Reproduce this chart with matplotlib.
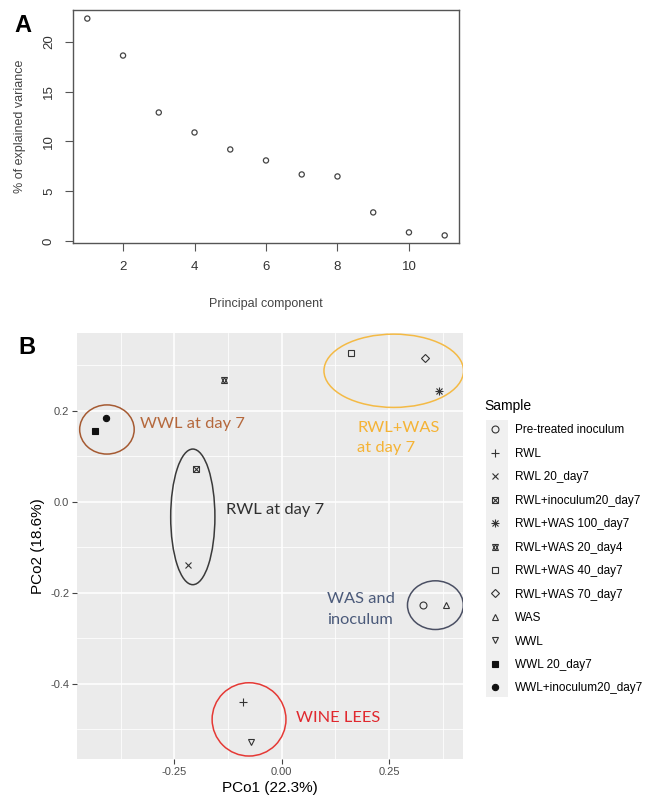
import matplotlib
matplotlib.use('Agg')
import matplotlib.pyplot as plt
from matplotlib.patches import Ellipse, Rectangle
from matplotlib.lines import Line2D
from matplotlib.legend_handler import HandlerTuple
from matplotlib.ticker import MultipleLocator

plt.rcParams['font.family'] = ['Liberation Sans', 'DejaVu Sans']

# Panel A data: scree plot
components = [1, 2, 3, 4, 5, 6, 7, 8, 9, 10, 11]
explained_var = [22.3, 18.6, 12.9, 10.9, 9.2, 8.1, 6.7, 6.5, 2.9, 0.9, 0.6]

# Panel B data: PCoA scores
samples = ['Pre-treated inoculum', 'RWL', 'RWL 20_day7', 'RWL+inoculum20_day7',
           'RWL+WAS 100_day7', 'RWL+WAS 20_day4', 'RWL+WAS 40_day7',
           'RWL+WAS 70_day7', 'WAS', 'WWL', 'WWL 20_day7', 'WWL+inoculum20_day7']
pco1 = [0.330, -0.089, -0.219, -0.199, 0.367, -0.134, 0.161, 0.333, 0.382, -0.072, -0.434, -0.408]
pco2 = [-0.226, -0.440, -0.138, 0.072, 0.243, 0.267, 0.326, 0.317, -0.226, -0.527, 0.155, 0.184]

# group annotations
group_labels = ['WWL at day 7', 'RWL at day 7', 'RWL+WAS\nat day 7', 'WAS and\ninoculum', 'WINE LEES']
label_x = [-0.329, -0.130, 0.176, 0.106, 0.034]
label_y = [0.170, -0.017, 0.140, -0.237, -0.476]
ell_x = [-0.407, -0.207, 0.261, 0.358, -0.076]
ell_y = [0.159, -0.033, 0.288, -0.227, -0.478]
ell_w = [0.127, 0.103, 0.325, 0.130, 0.172]
ell_h = [0.108, 0.298, 0.161, 0.107, 0.161]
text_colors = ['#B5683C', '#303030', '#F5B335', '#4B5A7A', '#E0282E']
ell_colors = ['#A55A32', '#3A3A3A', '#F4BA45', '#4A4F63', '#E53935']

fig = plt.figure(figsize=(6.46, 7.98), dpi=100)

##############################
########## Panel A ###########
##############################
axA = fig.add_axes([0.113, 0.6955, 0.5975, 0.292])
axA.scatter(components, explained_var, s=14, facecolors='none', edgecolors='#444444', linewidths=0.9)
axA.set_xlim(0.6, 11.4)
axA.set_ylim(-0.16, 23.16)
axA.set_xticks([2, 4, 6, 8, 10])
axA.set_yticks([0, 5, 10, 15, 20])
axA.tick_params(direction='out', length=6, color='#555555', labelcolor='#333333', labelsize=9.5, pad=7)
for lab in axA.get_yticklabels():
    lab.set_rotation(90)
    lab.set_va('center')
for sp in axA.spines.values():
    sp.set_color('#555555')
    sp.set_linewidth(1.0)
axA.set_xlabel('Principal component', fontsize=9, color='#444444', labelpad=18)
axA.set_ylabel('% of explained variance', fontsize=9, color='#444444', labelpad=12)
fig.text(0.022, 0.968, 'A', fontsize=17, fontweight='bold', va='center')

##############################
########## Panel B ###########
##############################
axB = fig.add_axes([0.119, 0.0489, 0.5975, 0.5338])
axB.set_facecolor('#EBEBEB')
axB.set_xlim(-0.477, 0.422)
axB.set_ylim(-0.565, 0.371)
axB.set_xticks([-0.25, 0.0, 0.25])
axB.set_xticklabels(['-0.25', '0.00', '0.25'])
axB.set_yticks([-0.4, -0.2, 0.0, 0.2])
axB.set_yticklabels(['-0.4', '-0.2', '0.0', '0.2'])
axB.xaxis.set_minor_locator(MultipleLocator(0.125))
axB.yaxis.set_minor_locator(MultipleLocator(0.1))
axB.grid(which='major', color='white', linewidth=1.1)
axB.grid(which='minor', color='white', linewidth=0.55)
axB.set_axisbelow(True)
for sp in axB.spines.values():
    sp.set_visible(False)
axB.tick_params(which='major', direction='out', length=3.5, color='#444444', labelcolor='#4D4D4D', labelsize=8, pad=2)
axB.tick_params(which='minor', length=0)
axB.set_xlabel('PCo1 (22.3%)', fontsize=11, labelpad=3)
axB.set_ylabel('PCo2 (18.6%)', fontsize=11, labelpad=4)

mk = dict(color='#333333', linestyle='none', markersize=5, markeredgewidth=0.8, markerfacecolor='none')
mk_fill = dict(color='#111111', linestyle='none', markersize=4.5, markeredgewidth=0.8)
styles = [
    [dict(marker='o', **mk)],
    [dict(marker='+', **dict(mk, markersize=6))],
    [dict(marker='x', **mk)],
    [dict(marker='s', **mk), dict(marker='x', **dict(mk, markersize=4))],
    [dict(marker='+', **dict(mk, markersize=6)), dict(marker='x', **mk)],
    [dict(marker='^', **mk), dict(marker='v', **mk)],
    [dict(marker='s', **mk)],
    [dict(marker='D', **dict(mk, markersize=4.5))],
    [dict(marker='^', **mk)],
    [dict(marker='v', **mk)],
    [dict(marker='s', **mk_fill)],
    [dict(marker='o', **mk_fill)],
]

handles = []
for i, name in enumerate(samples):
    parts = []
    for st in styles[i]:
        axB.plot([pco1[i]], [pco2[i]], zorder=4, **st)
        parts.append(Line2D([], [], **st))
    handles.append(tuple(parts))

for i in range(len(group_labels)):
    axB.add_patch(Ellipse((ell_x[i], ell_y[i]), ell_w[i], ell_h[i], fill=False,
                          edgecolor=ell_colors[i], linewidth=1.1, zorder=3))
    axB.text(label_x[i], label_y[i], group_labels[i], color=text_colors[i],
             fontsize=11.8, family=['Lato', 'DejaVu Sans'], va='center', ha='left',
             linespacing=1.6)

fig.text(0.028, 0.564, 'B', fontsize=17, fontweight='bold', va='center')

# legend key background
fig.patches.append(Rectangle((485.7 / 646, 1 - 697 / 798), 22.6 / 646, 277 / 798,
                             transform=fig.transFigure, facecolor='#F0F0F0', edgecolor='none', zorder=-1))

leg = axB.legend(handles, samples, handler_map={tuple: HandlerTuple(ndivide=1)},
                 loc='upper left', bbox_to_anchor=(484 / 646, 1 - 399 / 798),
                 bbox_transform=fig.transFigure, frameon=False, fontsize=8.5,
                 title='Sample', title_fontsize=10, alignment='left',
                 borderpad=0, borderaxespad=0, handlelength=1.9, handletextpad=0.75,
                 labelspacing=0.97)

fig.savefig('out.png', dpi=100)
